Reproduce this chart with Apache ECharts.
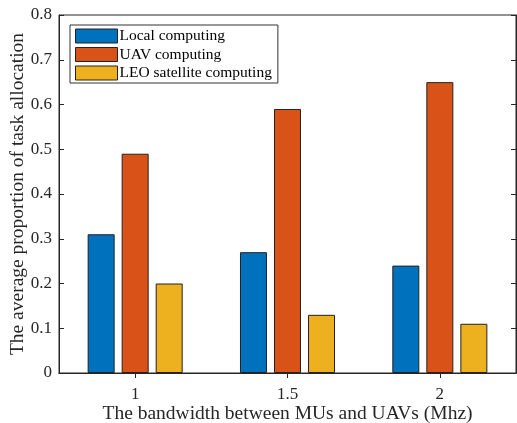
<!DOCTYPE html>
<html lang="en">
	<head>
		<meta charset="UTF-8" />
		<title>Task allocation</title>
		<script src="https://cdn.jsdelivr.net/npm/echarts@6/dist/echarts.min.js"></script>
		<style>
			html, body { margin: 0; padding: 0; background: #fff; }
			#chart { width: 517px; height: 423px; }
		</style>
	</head>
	<body>
		<div id="chart"></div>
		<script>
			const categories = ['1', '1.5', '2']
			const local = [0.31, 0.27, 0.24]
			const uav = [0.49, 0.59, 0.65]
			const leo = [0.20, 0.13, 0.11]
			const seriesNames = ['Local computing', 'UAV computing', 'LEO satellite computing']
			const colors = ['#0072BD', '#D95319', '#EDB120']

			const font = 'Liberation Serif, Times New Roman, serif'
			const axisColor = '#262626'
			const chart = echarts.init(document.getElementById('chart'))

			function bar(name, data, color) {
				return {
					name: name,
					type: 'bar',
					data: data,
					barWidth: 27,
					barGap: '26%',
					itemStyle: { color: color, borderColor: '#222', borderWidth: 1 }
				}
			}

			const baseX = {
				type: 'category',
				data: categories,
				axisLine: { show: true, lineStyle: { color: axisColor } },
				axisTick: { show: true, inside: true, alignWithLabel: true, length: 5, lineStyle: { color: axisColor } },
				splitLine: { show: false }
			}
			const baseY = {
				type: 'value',
				min: 0,
				max: 0.8,
				interval: 0.1,
				axisLine: { show: true, lineStyle: { color: axisColor } },
				axisTick: { show: true, inside: true, length: 5, lineStyle: { color: axisColor } },
				splitLine: { show: false }
			}

			chart.setOption({
				animation: false,
				textStyle: { fontFamily: font },
				grid: {
					left: 59, right: 1, top: 15, bottom: 50,
					containLabel: false, outerBoundsMode: 'none',
					show: true, borderColor: axisColor, borderWidth: 1
				},
				legend: {
					orient: 'vertical',
					left: 70,
					top: 25,
					padding: [3, 6, 2, 5],
					icon: 'rect',
					itemWidth: 42,
					itemHeight: 14,
					itemGap: 2.5,
					borderColor: '#333',
					borderWidth: 1,
					backgroundColor: '#fff',
					textStyle: { fontFamily: font, fontSize: 15.5, lineHeight: 16, color: '#000', padding: [0, 0, 0, -3] },
					itemStyle: { borderColor: '#222', borderWidth: 1 },
					data: seriesNames
				},
				xAxis: [
					Object.assign({}, baseX, {
						position: 'bottom',
						name: 'The bandwidth between MUs and UAVs (Mhz)',
						nameLocation: 'middle',
						nameGap: 31,
						nameMoveOverlap: false,
						nameTextStyle: { fontFamily: font, fontSize: 19.5, color: '#262626' },
						axisLabel: { fontFamily: font, fontSize: 17, color: '#262626', margin: 13 }
					}),
					Object.assign({}, baseX, { position: 'top', axisLabel: { show: false } })
				],
				yAxis: [
					Object.assign({}, baseY, {
						position: 'left',
						name: 'The average proportion of task allocation',
						nameLocation: 'middle',
						nameGap: 31,
						nameMoveOverlap: false,
						nameTextStyle: { fontFamily: font, fontSize: 19.5, color: '#262626' },
						axisLabel: { fontFamily: font, fontSize: 17, color: '#262626', margin: 7 }
					}),
					Object.assign({}, baseY, { position: 'right', axisLabel: { show: false } })
				],
				series: [
					bar(seriesNames[0], local, colors[0]),
					bar(seriesNames[1], uav, colors[1]),
					bar(seriesNames[2], leo, colors[2])
				]
			})
		</script>
	</body>
</html>
